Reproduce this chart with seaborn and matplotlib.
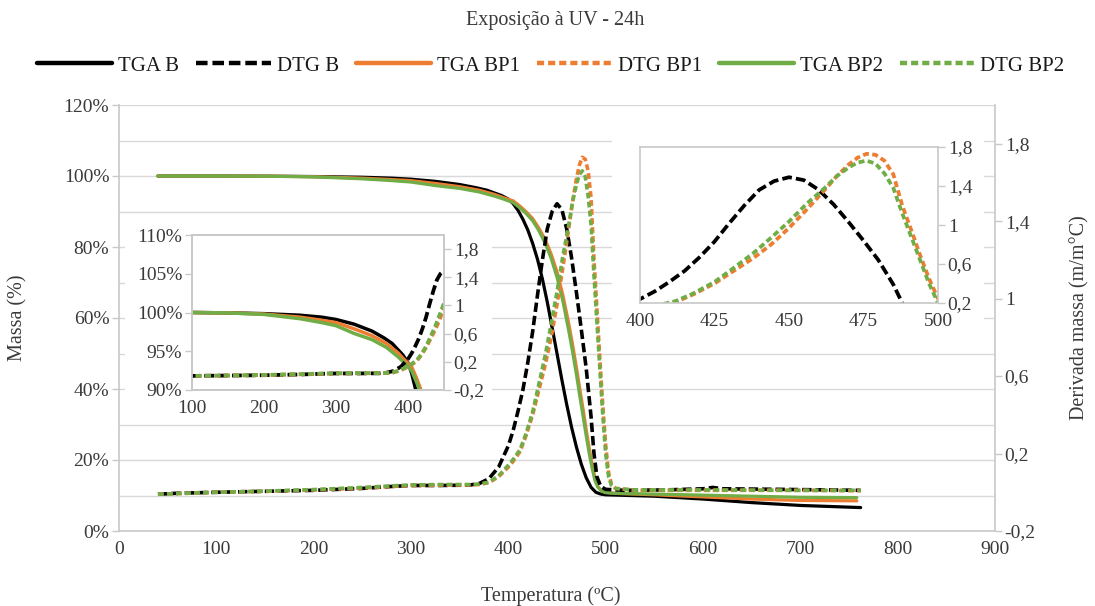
import matplotlib
matplotlib.use('Agg')
import matplotlib.pyplot as plt
import seaborn as sns
from matplotlib.patches import Rectangle
from matplotlib.ticker import PercentFormatter, FuncFormatter, MultipleLocator

# ── data ───────────────────────────────────────────────────────────────────────
# TGA: mass (%) vs temperature (ºC)
temp_tga_b = [40, 100, 150, 200, 250, 280, 300, 325, 350, 367, 378, 386, 393, 400,
              405, 410, 415, 420, 425, 430, 435, 440, 445, 450, 455, 460, 465, 470,
              475, 480, 485, 490, 495, 500, 550, 600, 650, 700, 762]
tga_b = [100.0, 100.0, 99.95, 99.85, 99.65, 99.4, 99.1, 98.5, 97.6, 96.7, 96.0, 95.2, 94.5, 93.5,
         92.2, 90.3, 87.8, 84.8, 81.0, 76.5, 71.0, 64.5, 57.3, 50.0, 42.6, 35.6, 29.2, 23.6,
         18.8, 15.0, 12.3, 10.9, 10.4, 10.2, 9.8, 9.0, 8.0, 7.2, 6.6]

temp_tga_bp = [40, 100, 150, 200, 250, 280, 300, 325, 350, 370, 386, 395, 405, 412,
               418, 425, 431, 438, 444, 450, 456, 462, 466, 470, 474, 477, 480, 483,
               486, 489, 492, 496, 500, 510, 550, 600, 650, 700, 758]
tga_bp1 = [100.0, 100.0, 99.95, 99.8, 99.4, 99.0, 98.7, 97.9, 97.0, 96.0, 94.8, 93.9, 93.0, 91.5,
           90.0, 88.0, 85.5, 82.0, 78.0, 73.0, 66.5, 58.5, 52.5, 46.0, 39.0, 34.0, 28.5, 23.5,
           19.0, 15.0, 12.5, 11.3, 10.9, 10.6, 10.2, 9.6, 9.0, 8.6, 8.5]
tga_bp2 = [100.0, 100.0, 99.95, 99.75, 99.2, 98.7, 98.3, 97.3, 96.5, 95.5, 94.3, 93.5, 92.5, 91.0,
           89.5, 87.4, 84.8, 81.0, 76.8, 71.5, 64.8, 56.5, 50.5, 44.0, 37.0, 32.0, 26.8, 22.0,
           17.8, 14.2, 12.3, 11.2, 10.8, 10.6, 10.4, 10.1, 9.8, 9.5, 9.4]

# DTG: mass derivative (m/mºC) vs temperature (ºC)
temp_dtg_b = [40, 60, 100, 150, 200, 250, 280, 300, 330, 360, 370, 380, 390, 400,
              405, 410, 415, 420, 425, 430, 435, 440, 445, 450, 455, 460, 465, 470,
              475, 480, 485, 488, 491, 495, 500, 520, 560, 600, 610, 620, 680, 762]
dtg_b = [-0.01, -0.005, 0.0, 0.005, 0.01, 0.02, 0.03, 0.035, 0.035, 0.037, 0.045, 0.07, 0.13, 0.24,
         0.32, 0.42, 0.53, 0.67, 0.83, 1.02, 1.2, 1.36, 1.45, 1.49, 1.46, 1.36, 1.21, 1.03,
         0.84, 0.64, 0.39, 0.2, 0.08, 0.03, 0.015, 0.01, 0.012, 0.018, 0.025, 0.018, 0.015, 0.01]

temp_dtg_bp = [40, 100, 150, 200, 250, 280, 300, 330, 360, 370, 380, 390, 400, 405,
               412, 418, 425, 431, 438, 444, 450, 456, 462, 466, 470, 473, 476, 479,
               482, 485, 488, 491, 494, 497, 500, 503, 506, 510, 530, 600, 700, 762]
dtg_bp1 = [-0.01, 0.0, 0.005, 0.012, 0.022, 0.03, 0.035, 0.037, 0.038, 0.04, 0.05, 0.08, 0.13, 0.16,
           0.21, 0.29, 0.40, 0.52, 0.66, 0.80, 0.97, 1.16, 1.36, 1.5, 1.62, 1.69, 1.73, 1.72,
           1.66, 1.52, 1.2, 0.95, 0.69, 0.45, 0.245, 0.1, 0.04, 0.02, 0.01, 0.01, 0.01, 0.008]
dtg_bp2 = [-0.01, 0.0, 0.006, 0.014, 0.025, 0.033, 0.038, 0.04, 0.04, 0.042, 0.052, 0.085, 0.14, 0.17,
           0.22, 0.30, 0.416, 0.55, 0.71, 0.87, 1.035, 1.22, 1.38, 1.5, 1.59, 1.64, 1.66, 1.63,
           1.53, 1.38, 1.12, 0.88, 0.64, 0.4, 0.2, 0.08, 0.035, 0.02, 0.012, 0.012, 0.01, 0.01]

legend_order = ['TGA B', 'DTG B', 'TGA BP1', 'DTG BP1', 'TGA BP2', 'DTG BP2']

BLACK  = '#000000'
ORANGE = '#ED7D31'
GREEN  = '#70AD47'
AXIS_C = '#c8c8c8'
TEXT_C = '#3a3a3a'
TICK_FS = 14
TEXT_FS = 14.5

TGA_SERIES = [('TGA B', temp_tga_b, tga_b, BLACK),
              ('TGA BP1', temp_tga_bp, tga_bp1, ORANGE),
              ('TGA BP2', temp_tga_bp, tga_bp2, GREEN)]
DTG_SERIES = [('DTG B', temp_dtg_b, dtg_b, BLACK, (0, (2.6, 1.1))),
              ('DTG BP1', temp_dtg_bp, dtg_bp1, ORANGE, (0, (1.6, 0.9))),
              ('DTG BP2', temp_dtg_bp, dtg_bp2, GREEN, (0, (1.6, 0.9)))]

sns.set_style('white')
plt.rcParams['font.family'] = ['Liberation Serif', 'DejaVu Serif']
plt.rcParams['font.size'] = TICK_FS


def comma_fmt(v, _):
    s = f"{v:.1f}".rstrip('0').rstrip('.')
    return '0' if s in ('-0', '') else s.replace('.', ',')


def draw_tga(ax, lw):
    for name, t, m, c in TGA_SERIES:
        sns.lineplot(x=t, y=m, ax=ax, color=c, lw=lw, label=name,
                     sort=False, legend=False, estimator=None)


def draw_dtg(ax, lw):
    for name, t, d, c, ls in DTG_SERIES:
        sns.lineplot(x=t, y=d, ax=ax, color=c, lw=lw, linestyle=ls, label=name,
                     sort=False, legend=False, estimator=None)


def style_axis(ax):
    ax.tick_params(axis='both', which='major', direction='out', length=5, width=1,
                   color=AXIS_C, labelcolor=TEXT_C, labelsize=TICK_FS, pad=2)
    ax.tick_params(axis='both', which='minor', length=0)
    for sp in ax.spines.values():
        sp.set_color(AXIS_C)
        sp.set_linewidth(1.2)


fig = plt.figure(figsize=(10.95, 6.06), dpi=100)

# ── main chart ─────────────────────────────────────────────────────────────────
ax = fig.add_axes([119 / 1095, 1 - 531 / 606, 876 / 1095, 426 / 606])
ax2 = ax.twinx()
ax.set_zorder(0)
ax2.set_zorder(1)

draw_tga(ax, 2.3)
draw_dtg(ax2, 2.6)

ax.set_xlim(0, 900)
ax.set_ylim(0, 120)
ax.xaxis.set_major_locator(MultipleLocator(100))
ax.yaxis.set_major_locator(MultipleLocator(20))
ax.yaxis.set_minor_locator(MultipleLocator(10))
ax.yaxis.set_major_formatter(PercentFormatter(100, decimals=0))
ax.grid(True, which='both', axis='y', color='#d9d9d9', lw=1)
ax.grid(False, axis='x')
ax.set_xlabel('')
ax.set_ylabel('')
style_axis(ax)
ax.spines['top'].set_visible(False)
ax.spines['right'].set_visible(False)

ax2.set_ylim(-0.2, 2.0)
ax2.set_yticks([-0.2, 0.2, 0.6, 1.0, 1.4, 1.8])
ax2.yaxis.set_major_formatter(FuncFormatter(comma_fmt))
ax2.set_ylabel('')
style_axis(ax2)
for side in ('top', 'left', 'bottom'):
    ax2.spines[side].set_visible(False)

# white chart areas of the two inset charts
fig.add_artist(Rectangle((125 / 1095, 1 - 420 / 606), 367 / 1095, 198 / 606,
                         transform=fig.transFigure, facecolor='white',
                         edgecolor='none', zorder=2))
fig.add_artist(Rectangle((612 / 1095, 1 - 345 / 606), 372 / 1095, 217 / 606,
                         transform=fig.transFigure, facecolor='white',
                         edgecolor='none', zorder=2))

# ── inset 1: start of decomposition ────────────────────────────────────────────
axi = fig.add_axes([192 / 1095, 1 - 390 / 606, 252 / 1095, 155 / 606])
axi2 = axi.twinx()
axi.set_zorder(3)
axi2.set_zorder(4)
draw_tga(axi, 2.5)
draw_dtg(axi2, 2.7)
axi.set_xlim(100, 450)
axi.set_ylim(90, 110)
axi.set_xticks([100, 200, 300, 400])
axi.yaxis.set_major_locator(MultipleLocator(5))
axi.yaxis.set_major_formatter(PercentFormatter(100, decimals=0))
axi.set_xlabel('')
axi.set_ylabel('')
style_axis(axi)
axi2.set_ylim(-0.2, 2.0)
axi2.set_yticks([-0.2, 0.2, 0.6, 1.0, 1.4, 1.8])
axi2.yaxis.set_major_formatter(FuncFormatter(comma_fmt))
axi2.set_ylabel('')
style_axis(axi2)

# ── inset 2: DTG peaks ─────────────────────────────────────────────────────────
axp = fig.add_axes([640 / 1095, 1 - 303 / 606, 298 / 1095, 156 / 606])
axp.set_zorder(3)
draw_dtg(axp, 2.7)
axp.set_xlim(400, 500)
axp.set_ylim(0.2, 1.8)
axp.set_xticks([400, 425, 450, 475, 500])
axp.set_yticks([0.2, 0.6, 1.0, 1.4, 1.8])
axp.yaxis.set_major_formatter(FuncFormatter(comma_fmt))
axp.yaxis.tick_right()
axp.set_xlabel('')
axp.set_ylabel('')
style_axis(axp)

# ── texts & legend ─────────────────────────────────────────────────────────────
fig.text(555 / 1095, 1 - 20 / 606, 'Exposição à UV - 24h', ha='center', va='center',
         fontsize=TEXT_FS, color=TEXT_C)
fig.text(551 / 1095, 1 - 596 / 606, 'Temperatura (ºC)', ha='center', va='center',
         fontsize=TEXT_FS, color=TEXT_C)
fig.text(18 / 1095, 1 - 318 / 606, 'Massa (%)', ha='center', va='center',
         rotation=90, fontsize=TEXT_FS, color=TEXT_C)
fig.text(1080 / 1095, 1 - 318 / 606, 'Derivada massa (m/m°C)', ha='center', va='center',
         rotation=90, fontsize=TEXT_FS, color=TEXT_C)

h1, l1 = ax.get_legend_handles_labels()
h2, l2 = ax2.get_legend_handles_labels()
lookup = dict(zip(l1 + l2, h1 + h2))
leg = fig.legend([lookup[n] for n in legend_order], legend_order,
                 loc='center', bbox_to_anchor=(551 / 1095, 1 - 66 / 606), ncol=6,
                 frameon=False, fontsize=15, handlelength=3.6, handletextpad=0.25,
                 columnspacing=0.85, labelcolor='#1a1a1a')
for line in leg.get_lines():
    line.set_linewidth(3.2)

fig.savefig('out.png', dpi=100)
plt.close(fig)
